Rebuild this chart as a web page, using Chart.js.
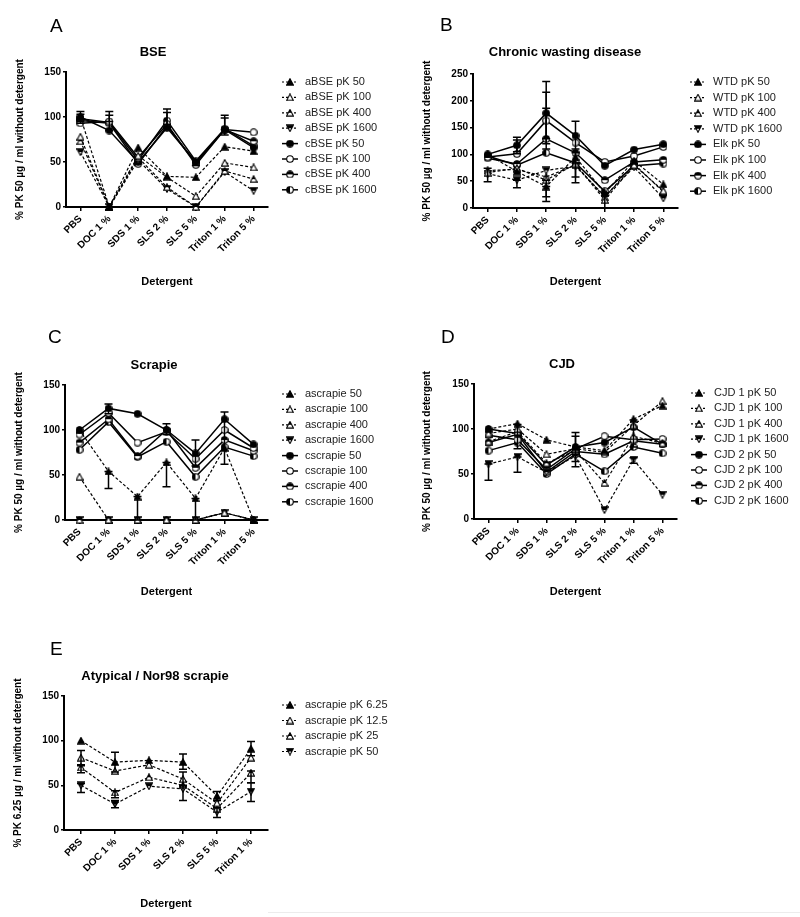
<!DOCTYPE html>
<html>
<head>
<meta charset="utf-8">
<script src="https://cdn.jsdelivr.net/npm/chart.js@4.4.0/dist/chart.umd.min.js"></script>
<style>
  body { margin: 0; background: #fff; width: 800px; height: 917px; position: relative; overflow: hidden; }
  canvas { position: absolute; }
  .edge { position: absolute; left: 268px; top: 912px; width: 532px; border-top: 1px solid #ececec; }
</style>
</head>
<body>
<canvas id="chartA" width="400" height="300" style="left:0;top:0"></canvas>
<canvas id="chartB" width="400" height="300" style="left:400px;top:0"></canvas>
<canvas id="chartC" width="400" height="300" style="left:0;top:300px"></canvas>
<canvas id="chartD" width="400" height="300" style="left:400px;top:300px"></canvas>
<canvas id="chartE" width="400" height="317" style="left:0;top:600px"></canvas>
<div class="edge"></div>
<script>
const FONT = "'Liberation Sans', Arial, sans-serif";

// Categories
const detergents = ["PBS", "DOC 1 %", "SDS 1 %", "SLS 2 %", "SLS 5 %", "Triton 1 %", "Triton 5 %"];
const detergentsNor98 = ["PBS", "DOC 1 %", "SDS 1 %", "SLS 2 %", "SLS 5 %", "Triton 1 %"];

// A - BSE
const bseNames = ["aBSE pK 50", "aBSE pK 100", "aBSE pK 400", "aBSE pK 1600", "cBSE pK 50", "cBSE pK 100", "cBSE pK 400", "cBSE pK 1600"];
const aBSE50 = [100, 0, 66, 34, 33, 67, 62];
const aBSE100 = [78, 0, 57, 33, 12, 49, 44];
const aBSE400 = [73, 0, 55, 22, 0, 40, 31];
const aBSE1600 = [61, 0, 52, 20, 0, 39, 18];
const cBSE50 = [100, 85, 50, 88, 50, 86, 66];
const cBSE100 = [93, 95, 55, 92, 47, 86, 83];
const cBSE400 = [96, 93, 48, 90, 49, 86, 73];
const cBSE1600 = [98, 94, 52, 96, 51, 87, 68];
const cBSE50Err = [[95, 106], [85, 106], null, [88, 109], [46, 52], [86, 102], null];
const cBSE100Err = [[93, 103], [95, 102], null, [92, 105], null, [80, 99], null];

// B - CWD
const cwdNames = ["WTD pK 50", "WTD pK 100", "WTD pK 400", "WTD pK 1600", "Elk pK 50", "Elk pK 100", "Elk pK 400", "Elk pK 1600"];
const wtd50 = [100, 68, 40, 95, 28, 88, 44];
const wtd100 = [66, 74, 52, 82, 15, 80, 32];
const wtd400 = [70, 72, 58, 80, 20, 82, 30];
const wtd1600 = [64, 52, 70, 78, 22, 76, 18];
const elk50 = [100, 117, 177, 135, 79, 109, 119];
const elk100 = [95, 101, 163, 122, 86, 97, 114];
const elk400 = [93, 82, 129, 103, 52, 86, 90];
const elk1600 = [97, 80, 103, 84, 31, 79, 83];
const wtd50Err = [null, null, [12, 40], null, [0, 28], null, null];
const wtd100Err = [[49, 74], null, [21, 52], null, null, null, null];
const wtd1600Err = [null, [38, 52], null, null, null, null, null];
const elk50Err = [null, [105, 132], [120, 236], [110, 162], null, null, null];
const elk100Err = [null, [101, 127], [110, 216], null, null, null, null];
const elk400Err = [null, null, [129, 186], [58, 103], null, null, null];
const elk1600Err = [null, null, null, [47, 84], null, null, null];

// C - Scrapie
const scrapieNames = ["ascrapie 50", "ascrapie 100", "ascrapie 400", "ascrapie 1600", "cscrapie 50", "cscrapie 100", "cscrapie 400", "cscrapie 1600"];
const ascrapie50 = [100, 54, 26, 64, 24, 80, 0];
const ascrapie100 = [48, 0, 0, 0, 0, 8, 0];
const ascrapie400 = [0, 0, 0, 0, 0, 8, 0];
const ascrapie1600 = [0, 0, 0, 0, 0, 8, 0];
const cscrapie50 = [100, 124, 118, 100, 74, 112, 84];
const cscrapie100 = [95, 119, 86, 98, 68, 100, 80];
const cscrapie400 = [86, 112, 71, 100, 58, 89, 77];
const cscrapie1600 = [78, 109, 70, 87, 48, 81, 71];
const ascrapie50Err = [null, [35, 54], [0, 26], [37, 64], [0, 24], null, null];
const cscrapie50Err = [null, [118, 129], null, [95, 107], [60, 89], [62, 120], null];

// D - CJD
const cjdNames = ["CJD 1 pK 50", "CJD 1 pK 100", "CJD 1 pK 400", "CJD 1 pK 1600", "CJD 2 pK 50", "CJD 2 pK 100", "CJD 2 pK 400", "CJD 2 pK 1600"];
const cjd1pK50 = [100, 106, 88, 80, 76, 111, 126];
const cjd1pK100 = [95, 100, 72, 78, 74, 104, 131];
const cjd1pK400 = [86, 97, 62, 76, 40, 92, 84];
const cjd1pK1600 = [61, 69, 52, 70, 10, 66, 27];
const cjd2pK50 = [100, 95, 60, 80, 85, 102, 83];
const cjd2pK100 = [93, 88, 55, 78, 92, 88, 89];
const cjd2pK400 = [85, 94, 52, 75, 72, 87, 83];
const cjd2pK1600 = [76, 85, 50, 72, 53, 80, 73];
const cjd1pK1600Err = [[43, 61], [52, 69], null, null, null, [62, 68], null];
const cjd2pK50Err = [null, [78, 105], null, [58, 96], null, [80, 110], null];
const cjd2pK100Err = [null, null, null, [64, 92], null, null, null];

// E - Atypical / Nor98 scrapie
const nor98Names = ["ascrapie pK 6.25", "ascrapie pK 12.5", "ascrapie pK 25", "ascrapie pK 50"];
const nor98pK6 = [100, 76, 78, 76, 38, 91];
const nor98pK12 = [81, 66, 73, 57, 30, 81];
const nor98pK25 = [70, 42, 59, 50, 24, 64];
const nor98pK50 = [50, 29, 49, 46, 20, 43];
const nor98pK6Err = [null, [65, 87], null, [68, 85], [33, 43], [83, 99]];
const nor98pK12Err = [[73, 89], null, null, [48, 65], null, null];
const nor98pK25Err = [[64, 72], [36, 44], null, null, null, [53, 66]];
const nor98pK50Err = [[42, 52], [25, 33], null, [33, 50], [14, 25], [32, 53]];

// Marker images (GraphPad-like symbols)
const makeMarker = (kind) => {
  const s = 8;
  const c = document.createElement("canvas");
  c.width = s;
  c.height = s;
  const g = c.getContext("2d");
  g.lineWidth = 1.1;
  g.strokeStyle = "#000";
  const tri = () => { g.beginPath(); g.moveTo(4, 0.7); g.lineTo(7.4, 7.1); g.lineTo(0.6, 7.1); g.closePath(); };
  const inv = () => { g.beginPath(); g.moveTo(0.6, 0.9); g.lineTo(7.4, 0.9); g.lineTo(4, 7.3); g.closePath(); };
  const circ = () => { g.beginPath(); g.arc(4, 4, 3.3, 0, Math.PI * 2); };
  const shape = kind.startsWith("tri") ? tri : kind.startsWith("inv") ? inv : circ;
  shape();
  g.fillStyle = kind.endsWith("Filled") ? "#000" : "#fff";
  g.fill();
  if (kind.endsWith("Top") || kind.endsWith("Left")) {
    g.save();
    shape();
    g.clip();
    g.fillStyle = "#000";
    if (kind.endsWith("Top")) g.fillRect(0, 0, s, s / 2);
    else g.fillRect(0, 0, s / 2, s);
    g.restore();
  }
  shape();
  g.stroke();
  return c;
};
const markerKinds = ["triFilled", "triOpen", "triTop", "invTop", "circFilled", "circOpen", "circTop", "circLeft"];
const markers = {};
markerKinds.forEach((k) => { markers[k] = makeMarker(k); });

// Error bars drawn through the y scale
const errorBarPlugin = {
  id: "errorBars",
  afterDatasetsDraw(chart) {
    const { ctx } = chart;
    const yScale = chart.scales.y;
    chart.data.datasets.forEach((ds, i) => {
      if (!ds.errorBars) return;
      const meta = chart.getDatasetMeta(i);
      ds.errorBars.forEach((bar, j) => {
        if (!bar || !meta.data[j]) return;
        const x = meta.data[j].x;
        const top = yScale.getPixelForValue(bar[1]);
        const bottom = yScale.getPixelForValue(bar[0]);
        ctx.save();
        ctx.strokeStyle = "#000";
        ctx.lineWidth = 1.5;
        ctx.beginPath();
        ctx.moveTo(x, top);
        ctx.lineTo(x, bottom);
        ctx.moveTo(x - 4, top);
        ctx.lineTo(x + 4, top);
        ctx.moveTo(x - 4, bottom);
        ctx.lineTo(x + 4, bottom);
        ctx.stroke();
        ctx.restore();
      });
    });
  },
};

// Panel letter, title and legend
const panelPlugin = {
  id: "panel",
  afterDraw(chart, args, opts) {
    const ctx = chart.ctx;
    ctx.save();
    ctx.fillStyle = "#000";
    ctx.textBaseline = "middle";
    ctx.textAlign = "left";
    ctx.font = `19px ${FONT}`;
    ctx.fillText(opts.letter, opts.letterX, opts.letterY);
    ctx.textAlign = "center";
    ctx.font = `bold 13px ${FONT}`;
    ctx.fillText(opts.title, opts.titleX, opts.titleY);
    ctx.textAlign = "left";
    ctx.font = `11px ${FONT}`;
    chart.data.datasets.forEach((ds, i) => {
      const x = opts.legendX;
      const y = opts.legendY + i * opts.legendStep;
      ctx.strokeStyle = "#000";
      ctx.lineWidth = ds.borderWidth;
      ctx.setLineDash(ds.borderDash.length ? [2, 2] : []);
      ctx.beginPath();
      ctx.moveTo(x, y);
      ctx.lineTo(x + 16, y);
      ctx.stroke();
      ctx.setLineDash([]);
      const img = ds.pointStyle;
      ctx.drawImage(img, x + 8 - img.width / 2, y - img.height / 2);
      ctx.fillStyle = "#222";
      ctx.fillText(ds.label, x + 23, y);
    });
    ctx.restore();
  },
};

const buildDatasets = (names, values, errors) => names.map((name, i) => {
  const solid = i >= 4;
  return {
    label: name,
    data: values[i],
    errorBars: errors[i],
    borderColor: "#000",
    backgroundColor: "#000",
    borderWidth: solid ? 1.5 : 1.2,
    borderDash: solid ? [] : [3, 2],
    pointStyle: markers[markerKinds[i]],
    pointRadius: 4,
    tension: 0,
    clip: false,
  };
});

const makePanel = (p) => {
  const canvas = document.getElementById(p.id);
  const W = canvas.width;
  const H = canvas.height;
  const tickFont = { family: FONT, size: 10, weight: "bold" };
  return new Chart(canvas, {
    type: "line",
    data: { labels: p.labels, datasets: buildDatasets(p.names, p.values, p.errors) },
    options: {
      responsive: false,
      animation: false,
      events: [],
      layout: { padding: { left: 0, top: p.area.top, right: W - p.area.right, bottom: 0 } },
      plugins: {
        legend: { display: false },
        tooltip: { enabled: false },
        panel: p.panel,
      },
      scales: {
        x: {
          offset: true,
          grid: { display: true, drawOnChartArea: false, drawTicks: true, tickLength: 4, color: "#000", lineWidth: 1.5 },
          border: { display: true, color: "#000", width: 2 },
          ticks: { autoSkip: false, minRotation: 45, maxRotation: 45, color: "#000", font: tickFont, padding: 2 },
          title: { display: true, text: "Detergent", color: "#000", font: { family: FONT, size: 11, weight: "bold" }, padding: { top: 0, bottom: p.xTitlePad } },
          afterFit: (scale) => { scale.height = H - p.area.bottom; },
        },
        y: {
          min: 0,
          max: p.yMax,
          grid: { display: true, drawOnChartArea: false, drawTicks: true, tickLength: 3, color: "#000", lineWidth: 1.5 },
          border: { display: true, color: "#000", width: 2 },
          ticks: { stepSize: 50, color: "#000", font: tickFont, padding: 2 },
          title: { display: true, text: p.yTitle, color: "#000", font: { family: FONT, size: 10, weight: "bold" }, padding: { top: p.yTitlePad, bottom: 0 } },
          afterFit: (scale) => { scale.width = p.area.left; },
        },
      },
    },
    plugins: [errorBarPlugin, panelPlugin],
  });
};

makePanel({
  id: "chartA",
  labels: detergents,
  names: bseNames,
  values: [aBSE50, aBSE100, aBSE400, aBSE1600, cBSE50, cBSE100, cBSE400, cBSE1600],
  errors: [null, null, null, null, cBSE50Err, cBSE100Err, null, null],
  area: { left: 66, top: 72, right: 268, bottom: 207 },
  yMax: 150,
  yTitle: "% PK 50 µg / ml without detergent",
  yTitlePad: 14,
  xTitlePad: 11,
  panel: { letter: "A", letterX: 50, letterY: 27, title: "BSE", titleX: 153, titleY: 52, legendX: 282, legendY: 82, legendStep: 15.4 },
});

makePanel({
  id: "chartB",
  labels: detergents,
  names: cwdNames,
  values: [wtd50, wtd100, wtd400, wtd1600, elk50, elk100, elk400, elk1600],
  errors: [wtd50Err, wtd100Err, null, wtd1600Err, elk50Err, elk100Err, elk400Err, elk1600Err],
  area: { left: 73, top: 74, right: 278, bottom: 208 },
  yMax: 250,
  yTitle: "% PK 50 µg / ml without detergent",
  yTitlePad: 21,
  xTitlePad: 11,
  panel: { letter: "B", letterX: 40, letterY: 26, title: "Chronic wasting disease", titleX: 165, titleY: 52, legendX: 290, legendY: 82, legendStep: 15.6 },
});

makePanel({
  id: "chartC",
  labels: detergents,
  names: scrapieNames,
  values: [ascrapie50, ascrapie100, ascrapie400, ascrapie1600, cscrapie50, cscrapie100, cscrapie400, cscrapie1600],
  errors: [ascrapie50Err, null, null, null, cscrapie50Err, null, null, null],
  area: { left: 65, top: 85, right: 268, bottom: 220 },
  yMax: 150,
  yTitle: "% PK 50 µg / ml without detergent",
  yTitlePad: 13,
  xTitlePad: 1,
  panel: { letter: "C", letterX: 48, letterY: 38, title: "Scrapie", titleX: 154, titleY: 65, legendX: 282, legendY: 94, legendStep: 15.4 },
});

makePanel({
  id: "chartD",
  labels: detergents,
  names: cjdNames,
  values: [cjd1pK50, cjd1pK100, cjd1pK400, cjd1pK1600, cjd2pK50, cjd2pK100, cjd2pK400, cjd2pK1600],
  errors: [null, null, null, cjd1pK1600Err, cjd2pK50Err, cjd2pK100Err, null, null],
  area: { left: 74, top: 84, right: 277, bottom: 219 },
  yMax: 150,
  yTitle: "% PK 50 µg / ml without detergent",
  yTitlePad: 21,
  xTitlePad: 1,
  panel: { letter: "D", letterX: 41, letterY: 38, title: "CJD", titleX: 162, titleY: 64, legendX: 291, legendY: 93, legendStep: 15.4 },
});

makePanel({
  id: "chartE",
  labels: detergentsNor98,
  names: nor98Names,
  values: [nor98pK6, nor98pK12, nor98pK25, nor98pK50],
  errors: [nor98pK6Err, nor98pK12Err, nor98pK25Err, nor98pK50Err],
  area: { left: 64, top: 96, right: 268, bottom: 230 },
  yMax: 150,
  yTitle: "% PK 6.25 µg / ml without detergent",
  yTitlePad: 12,
  xTitlePad: 6,
  panel: { letter: "E", letterX: 50, letterY: 50, title: "Atypical / Nor98 scrapie", titleX: 155, titleY: 76, legendX: 282, legendY: 105, legendStep: 15.5 },
});
</script>
</body>
</html>
